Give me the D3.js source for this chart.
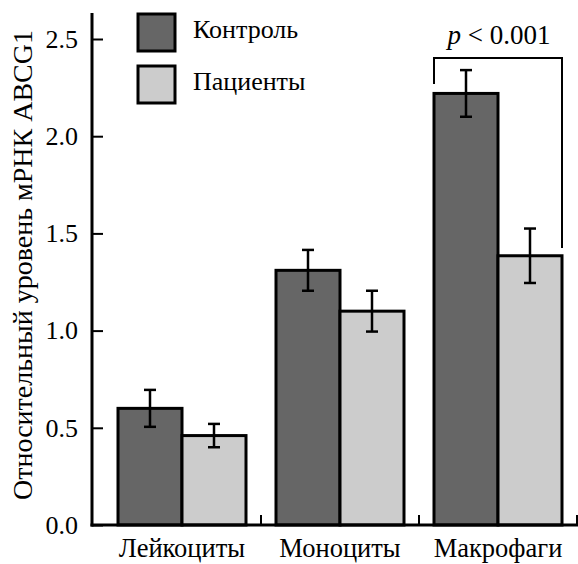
<!DOCTYPE html>
<html>
<head>
<meta charset="utf-8">
<script src="https://cdn.jsdelivr.net/npm/d3@7"></script>
<style>
  body { margin: 0; background: #fff; }
</style>
</head>
<body>
<div class="chart"></div>
<script>
// data
var categories = ["Лейкоциты", "Моноциты", "Макрофаги"];
var groups = ["Контроль", "Пациенты"];
var controlMeans = [0.60, 1.31, 2.22];
var controlErr = [0.095, 0.105, 0.12];
var patientMeans = [0.46, 1.10, 1.385];
var patientErr = [0.06, 0.105, 0.14];
var yTicks = [0.0, 0.5, 1.0, 1.5, 2.0, 2.5];
var pLabel = "< 0.001";

var colors = {"Контроль": "#666666", "Пациенты": "#cccccc"};
var serif = "Liberation Serif";

var rows = [];
categories.forEach(function(c, i) {
  rows.push({cat: c, grp: groups[0], v: controlMeans[i], e: controlErr[i]});
  rows.push({cat: c, grp: groups[1], v: patientMeans[i], e: patientErr[i]});
});

var W = 578, H = 564;
var svg = d3.select('.chart').append('svg').attr('width', W).attr('height', H);

var y = d3.scaleLinear().domain([0, 2.5]).range([525, 39]);
var x = d3.scaleBand().domain(categories).range([103, 577]).paddingInner(0).paddingOuter(0);
var inner = d3.scaleBand().domain(groups).range([15, x.bandwidth() - 15]);

// bars
svg.selectAll('rect.bar').data(rows).enter()
  .append('rect')
  .attr('class', 'bar')
  .attr('x', function(d) { return x(d.cat) + inner(d.grp); })
  .attr('y', function(d) { return y(d.v); })
  .attr('width', inner.bandwidth())
  .attr('height', function(d) { return y(0) - y(d.v); })
  .style('fill', function(d) { return colors[d.grp]; })
  .style('stroke', '#000')
  .style('stroke-width', 3);

// error bars
var eb = svg.selectAll('g.err').data(rows).enter().append('g').attr('class', 'err')
  .attr('transform', function(d) { return 'translate(' + (x(d.cat) + inner(d.grp) + inner.bandwidth() / 2) + ',0)'; });
eb.append('line')
  .attr('y1', function(d) { return y(d.v + d.e); })
  .attr('y2', function(d) { return y(d.v - d.e); })
  .style('stroke', '#000').style('stroke-width', 2.5);
eb.append('line').attr('x1', -6).attr('x2', 6)
  .attr('y1', function(d) { return y(d.v + d.e); }).attr('y2', function(d) { return y(d.v + d.e); })
  .style('stroke', '#000').style('stroke-width', 2.5);
eb.append('line').attr('x1', -6).attr('x2', 6)
  .attr('y1', function(d) { return y(d.v - d.e); }).attr('y2', function(d) { return y(d.v - d.e); })
  .style('stroke', '#000').style('stroke-width', 2.5);

// y axis
var yAxis = svg.append('g').attr('transform', 'translate(92,0)')
  .call(d3.axisLeft(y).tickValues(yTicks).tickFormat(d3.format('.1f')).tickSizeInner(-11).tickSizeOuter(0).tickPadding(14));
yAxis.select('.domain').remove();
yAxis.selectAll('.tick line').style('stroke', '#000').style('stroke-width', 2);
yAxis.selectAll('.tick text').style('font-family', serif).style('font-size', '26px').style('fill', '#000');
svg.append('line').attr('x1', 92).attr('x2', 92).attr('y1', 13).attr('y2', y(0) + 1.5)
  .style('stroke', '#000').style('stroke-width', 3);

// x axis
svg.append('line').attr('x1', 90.5).attr('x2', 578).attr('y1', y(0)).attr('y2', y(0))
  .style('stroke', '#000').style('stroke-width', 3);
var bounds = categories.map(function(c) { return x(c) + x.bandwidth(); });
svg.selectAll('line.sep').data(bounds).enter().append('line')
  .attr('x1', function(d) { return d; }).attr('x2', function(d) { return d; })
  .attr('y1', y(0)).attr('y2', y(0) - 10)
  .style('stroke', '#000').style('stroke-width', 2);
svg.selectAll('text.cat').data(categories).enter().append('text')
  .attr('x', function(d) { return x(d) + x.bandwidth() / 2; })
  .attr('y', 557)
  .attr('text-anchor', 'middle')
  .style('font-family', serif).style('font-size', '26.5px')
  .text(function(d) { return d; });

// y label
svg.append('text')
  .attr('transform', 'translate(32,265) rotate(-90)')
  .attr('text-anchor', 'middle')
  .style('font-family', serif).style('font-size', '28px')
  .text('Относительный уровень мРНК ABCG1');

// legend
var leg = svg.selectAll('g.leg').data(groups).enter().append('g')
  .attr('transform', function(d, i) { return 'translate(138,' + (14 + i * 52) + ')'; });
leg.append('rect').attr('width', 37).attr('height', 37)
  .style('fill', function(d) { return colors[d]; })
  .style('stroke', '#000').style('stroke-width', 3);
leg.append('text').attr('x', 55).attr('y', 24)
  .style('font-family', serif).style('font-size', '26px')
  .text(function(d) { return d; });

// significance bracket
var xl = x(categories[2]) + inner(groups[0]);
var xr = x(categories[2]) + inner(groups[1]) + inner.bandwidth();
svg.append('path')
  .attr('d', 'M' + xl + ',' + 84 + 'V58H' + xr + 'V' + 248)
  .style('fill', 'none').style('stroke', '#000').style('stroke-width', 2);
var pt = svg.append('text').attr('x', (xl + xr) / 2 + 1).attr('y', 44)
  .attr('text-anchor', 'middle').style('font-family', serif).style('font-size', '27px');
pt.append('tspan').style('font-style', 'italic').text('p');
pt.append('tspan').text(' ' + pLabel);
</script>
</body>
</html>
